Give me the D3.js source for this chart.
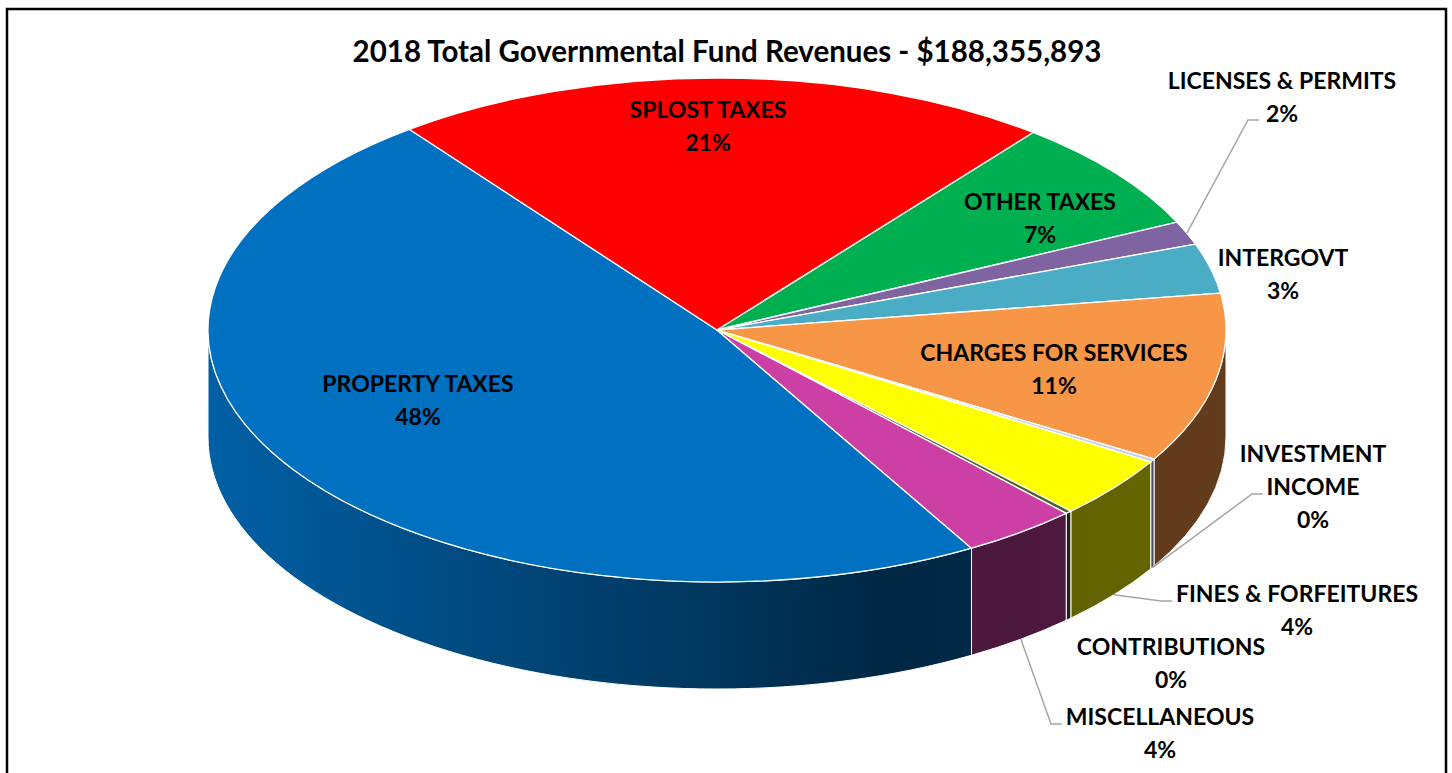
<!DOCTYPE html>
<html>
<head>
<meta charset="utf-8">
<script src="https://cdn.jsdelivr.net/npm/d3@7"></script>
<style>
body { margin: 0; background: #fff; }
text { font-family: Lato, "Open Sans", sans-serif; font-weight: bold; fill: #000; }
</style>
</head>
<body>
<svg id="chart" width="1452" height="773"></svg>
<script>
// data (percent of total revenues)
const categories = ["PROPERTY TAXES", "SPLOST TAXES", "OTHER TAXES", "LICENSES & PERMITS", "INTERGOVT",
    "CHARGES FOR SERVICES", "INVESTMENT INCOME", "FINES & FORFEITURES", "CONTRIBUTIONS", "MISCELLANEOUS"]
const shares = [48.0, 21.0, 7.3, 1.5, 3.2, 10.9, 0.2, 4.0, 0.2, 3.7]
const colors = ["#0070C0", "#FF0000", "#00B050", "#8064A2", "#4BACC6",
    "#F79646", "#C6D0E0", "#FFFF00", "#4F6228", "#CC3FA4"]
const title = "2018 Total Governmental Fund Revenues - $188,355,893"

// label placement (block centre, optional wrapped lines, optional leader end)
const labelLayout = [
    {x: 418, y: 399},
    {x: 708, y: 125},
    {x: 1040, y: 217},
    {x: 1282, y: 96, leader: [1259, 120]},
    {x: 1283, y: 273},
    {x: 1054, y: 368},
    {x: 1313, y: 486, lines: ["INVESTMENT", "INCOME"], leader: [1263, 494]},
    {x: 1297, y: 609, leader: [1172, 601]},
    {x: 1171, y: 662},
    {x: 1160, y: 732, leader: [1062, 724]}
]

const svg = d3.select("#chart")
const cx = 717, cy = 330, rx = 509, ry = 252, depth = 107
const lineH = 33

// ellipse projection through scales: sin -> x, cos -> y
const sx = d3.scaleLinear().domain([-1, 1]).range([cx - rx, cx + rx])
const sy = d3.scaleLinear().domain([-1, 1]).range([cy + ry, cy - ry])
const pt = (a, dz = 0) => [sx(Math.sin(a)), sy(Math.cos(a)) + dz]

const start = 150 * Math.PI / 180
const pie = d3.pie().sort(null).value(d => d)
    .startAngle(start).endAngle(start + 2 * Math.PI)
const arcs = pie(shares)

svg.append("rect")
    .attr("x", 7).attr("y", 9).attr("width", 1439).attr("height", 800)
    .attr("fill", "none").attr("stroke", "#000").attr("stroke-width", 2.5)

svg.append("text")
    .attr("x", 727).attr("y", 50)
    .attr("text-anchor", "middle").attr("dominant-baseline", "central")
    .style("font-size", "29.5px")
    .text(title)

// side shading gradients
const defs = svg.append("defs")
const shade = (c, f) => { const r = d3.rgb(c); return d3.rgb(r.r * f, r.g * f, r.b * f) }
colors.forEach((c, i) => {
    const g = defs.append("linearGradient").attr("id", "side" + i)
        .attr("gradientUnits", "userSpaceOnUse")
        .attr("x1", cx - rx).attr("x2", cx + rx).attr("y1", 0).attr("y2", 0)
    ;[[0, 0.86], [0.66, 0.36], [1, 0.40]].forEach(s => {
        g.append("stop").attr("offset", s[0]).attr("stop-color", shade(c, s[1]))
    })
})

function frontPart(a0, a1) {
    const out = []
    for (const k of [0, 2 * Math.PI]) {
        const s = Math.max(a0, Math.PI / 2 + k), e = Math.min(a1, 3 * Math.PI / 2 + k)
        if (e > s) out.push([s, e])
    }
    return out
}

const sides = []
arcs.forEach((d, i) => frontPart(d.startAngle, d.endAngle).forEach(p => sides.push({i, s: p[0], e: p[1]})))

svg.append("g").selectAll("path")
    .data(sides)
    .enter()
    .append("path")
    .attr("d", d => {
        const p0 = pt(d.s), p1 = pt(d.e), b1 = pt(d.e, depth), b0 = pt(d.s, depth)
        return `M${p0}A${rx},${ry} 0 0 1 ${p1}L${b1}A${rx},${ry} 0 0 0 ${b0}Z`
    })
    .attr("fill", d => `url(#side${d.i})`)
    .attr("stroke", "#fff").attr("stroke-width", 1)

svg.append("g").selectAll("path")
    .data(arcs)
    .enter()
    .append("path")
    .attr("d", d => {
        const large = d.endAngle - d.startAngle > Math.PI ? 1 : 0
        return `M${cx},${cy}L${pt(d.startAngle)}A${rx},${ry} 0 ${large} 1 ${pt(d.endAngle)}Z`
    })
    .attr("fill", (d, i) => colors[i])
    .attr("stroke", "#fff").attr("stroke-width", 1.3).attr("stroke-linejoin", "round")

// leader lines
svg.append("g").selectAll("path")
    .data(arcs.filter((d, i) => labelLayout[i].leader))
    .enter()
    .append("path")
    .attr("d", d => {
        const mid = (d.startAngle + d.endAngle) / 2
        const s = Math.cos(mid) < 0 ? pt(mid, depth) : pt(mid)
        const e = labelLayout[d.index].leader
        return `M${s}L${e[0] - 11},${e[1]}L${e}`
    })
    .attr("fill", "none").attr("stroke", "#A6A6A6").attr("stroke-width", 1.5)

// labels
const fmt = d3.format(".0f")
const labels = svg.append("g").selectAll("text")
    .data(arcs)
    .enter()
    .append("text")
    .attr("text-anchor", "middle")
    .style("font-size", "23px")

labels.each(function (d, i) {
    const lay = labelLayout[i]
    const lines = (lay.lines || [categories[i]]).concat([fmt(shares[i]) + "%"])
    lines.forEach((t, j) => {
        d3.select(this).append("tspan")
            .attr("x", lay.x)
            .attr("y", lay.y + (j - (lines.length - 1) / 2) * lineH)
            .attr("dominant-baseline", "central")
            .text(t)
    })
})
</script>
</body>
</html>
